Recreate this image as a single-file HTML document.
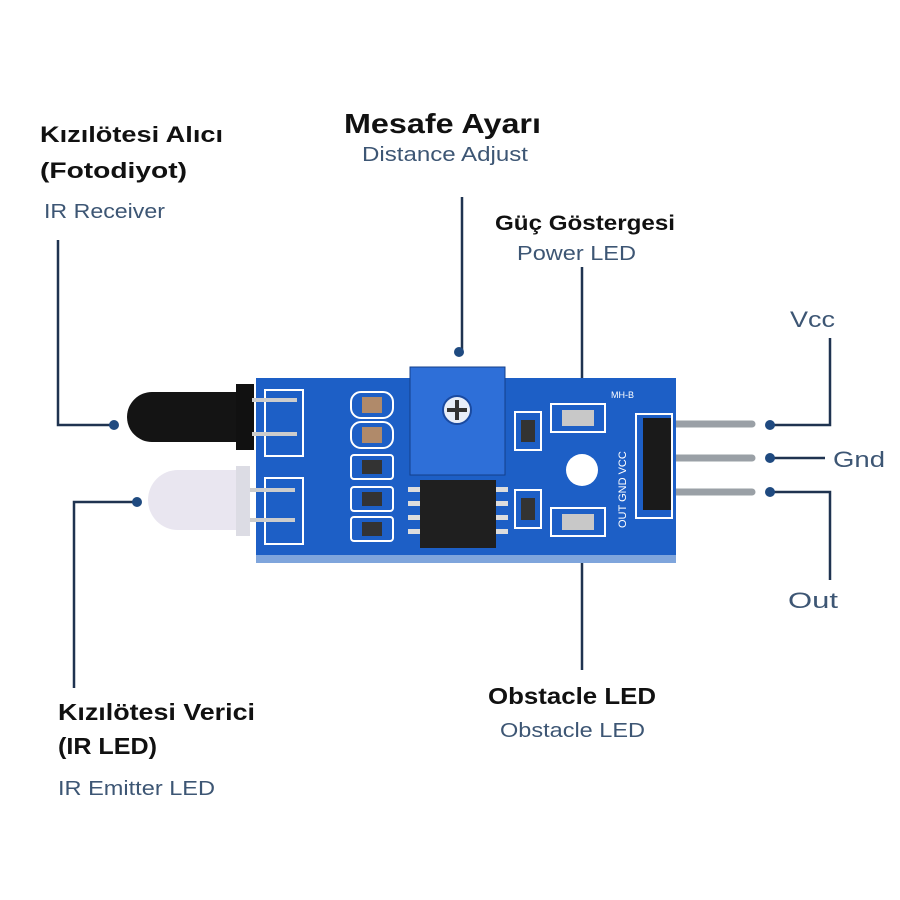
<!DOCTYPE html>
<html><head><meta charset="utf-8"><style>
html,body{margin:0;padding:0;background:#fff;}
svg{display:block;}
.t{font-family:"Liberation Sans Narrow","Liberation Sans",sans-serif;font-weight:bold;fill:#111;}
.e{font-family:"Liberation Sans Narrow","Liberation Sans",sans-serif;fill:#3d5674;}
</style></head><body>
<svg width="900" height="900" viewBox="0 0 900 900" xmlns="http://www.w3.org/2000/svg">
<rect width="900" height="900" fill="#fff"/>
<text class="t" x="40" y="142" font-size="22" textLength="183" lengthAdjust="spacingAndGlyphs">Kızılötesi Alıcı</text>
<text class="t" x="40" y="178" font-size="22" textLength="147" lengthAdjust="spacingAndGlyphs">(Fotodiyot)</text>
<text class="e" x="44" y="218" font-size="20" textLength="121" lengthAdjust="spacingAndGlyphs">IR Receiver</text>
<text class="t" x="344" y="133" font-size="28" textLength="197" lengthAdjust="spacingAndGlyphs">Mesafe Ayarı</text>
<text class="e" x="362" y="161" font-size="20" textLength="166" lengthAdjust="spacingAndGlyphs">Distance Adjust</text>
<text class="t" x="495" y="230" font-size="21" textLength="180" lengthAdjust="spacingAndGlyphs">Güç Göstergesi</text>
<text class="e" x="517" y="260" font-size="20" textLength="119" lengthAdjust="spacingAndGlyphs">Power LED</text>
<text class="e" x="790" y="327" font-size="22" textLength="45" lengthAdjust="spacingAndGlyphs">Vcc</text>
<text class="e" x="833" y="467" font-size="22" textLength="52" lengthAdjust="spacingAndGlyphs">Gnd</text>
<text class="e" x="788" y="608" font-size="22" textLength="50" lengthAdjust="spacingAndGlyphs">Out</text>
<text class="t" x="488" y="704" font-size="23" textLength="168" lengthAdjust="spacingAndGlyphs">Obstacle LED</text>
<text class="e" x="500" y="737" font-size="20" textLength="145" lengthAdjust="spacingAndGlyphs">Obstacle LED</text>
<text class="t" x="58" y="720" font-size="23" textLength="197" lengthAdjust="spacingAndGlyphs">Kızılötesi Verici</text>
<text class="t" x="58" y="754" font-size="23" textLength="99" lengthAdjust="spacingAndGlyphs">(IR LED)</text>
<text class="e" x="58" y="795" font-size="20" textLength="157" lengthAdjust="spacingAndGlyphs">IR Emitter LED</text>
<g stroke="#1f3350" stroke-width="2.5" fill="none">
<path d="M58 240 V425 H112"/>
<path d="M137 502 H74 V688"/>
<path d="M462 197 V350"/>
<path d="M582 267 V420"/>
<path d="M582 545 V670"/>
<path d="M830 338 V425 H772"/>
<path d="M772 458 H825"/>
<path d="M772 492 H830 V580"/>
</g>
<g fill="#1f4a80">
<circle cx="114" cy="425" r="5"/><circle cx="137" cy="502" r="5"/>
<circle cx="459" cy="352" r="5"/>
<circle cx="770" cy="425" r="5"/><circle cx="770" cy="458" r="5"/><circle cx="770" cy="492" r="5"/>
</g>
<g stroke="#9aa0a6" stroke-width="7" stroke-linecap="round">
<line x1="665" y1="424" x2="752" y2="424"/>
<line x1="665" y1="458" x2="752" y2="458"/>
<line x1="665" y1="492" x2="752" y2="492"/>
</g>
<!-- board -->
<rect x="256" y="378" width="420" height="184" fill="#1d5fc6"/>
<rect x="256" y="555" width="420" height="8" fill="#7fa5dc"/>
<rect x="643" y="418" width="28" height="92" fill="#1a1a1a"/>
<circle cx="582" cy="470" r="16" fill="#fff"/>
<g fill="none" stroke="#fff" stroke-width="2">
<rect x="351" y="392" width="42" height="26" rx="10"/>
<rect x="351" y="422" width="42" height="26" rx="10"/>
<rect x="351" y="455" width="42" height="24" rx="3"/>
<rect x="351" y="487" width="42" height="24" rx="3"/>
<rect x="351" y="517" width="42" height="24" rx="3"/>
<rect x="265" y="390" width="38" height="66"/>
<rect x="265" y="478" width="38" height="66"/>
<rect x="551" y="404" width="54" height="28"/>
<rect x="551" y="508" width="54" height="28"/>
<rect x="515" y="412" width="26" height="38"/>
<rect x="515" y="490" width="26" height="38"/>
<rect x="636" y="414" width="36" height="104"/>
</g>
<rect x="362" y="397" width="20" height="16" fill="#b08a6a"/>
<rect x="362" y="427" width="20" height="16" fill="#b08a6a"/>
<rect x="362" y="460" width="20" height="14" fill="#333"/>
<rect x="362" y="492" width="20" height="14" fill="#333"/>
<rect x="362" y="522" width="20" height="14" fill="#333"/>
<rect x="521" y="420" width="14" height="22" fill="#333"/>
<rect x="521" y="498" width="14" height="22" fill="#333"/>
<rect x="562" y="410" width="32" height="16" fill="#c8c8c8"/>
<rect x="562" y="514" width="32" height="16" fill="#c8c8c8"/>
<text x="611" y="398" font-family="Liberation Sans" font-size="9" fill="#fff">MH-B</text>
<text x="0" y="0" font-family="Liberation Sans" font-size="11" fill="#fff" transform="translate(626 528) rotate(-90)">OUT GND VCC</text>
<!-- pot -->
<rect x="410" y="367" width="95" height="108" fill="#2e6fd8" stroke="#143f8a"/>
<circle cx="457" cy="410" r="14" fill="#e8eef8" stroke="#1a4aa0" stroke-width="2"/>
<path d="M457 400 V420 M447 410 H467" stroke="#333" stroke-width="4"/>
<!-- chip -->
<rect x="420" y="480" width="76" height="68" fill="#1f1f1f"/>
<g fill="#ddd"><rect x="408" y="487" width="12" height="5"/><rect x="408" y="501" width="12" height="5"/><rect x="408" y="515" width="12" height="5"/><rect x="408" y="529" width="12" height="5"/>
<rect x="496" y="487" width="12" height="5"/><rect x="496" y="501" width="12" height="5"/><rect x="496" y="515" width="12" height="5"/><rect x="496" y="529" width="12" height="5"/></g>
<!-- receiver -->
<rect x="236" y="384" width="18" height="66" fill="#111"/>
<path d="M236 392 H152 A24 24 0 0 0 152 442 H236 Z" fill="#141414"/>
<rect x="252" y="398" width="45" height="4" fill="#ccc"/>
<rect x="252" y="432" width="45" height="4" fill="#ccc"/>
<!-- emitter -->
<path d="M242 470 H178 A30 30 0 0 0 178 530 H242 Z" fill="#e9e6f0"/>
<rect x="236" y="466" width="14" height="70" fill="#dcdce4"/>
<rect x="250" y="488" width="45" height="4" fill="#ccc"/>
<rect x="250" y="518" width="45" height="4" fill="#ccc"/>
</svg>
</body></html>
